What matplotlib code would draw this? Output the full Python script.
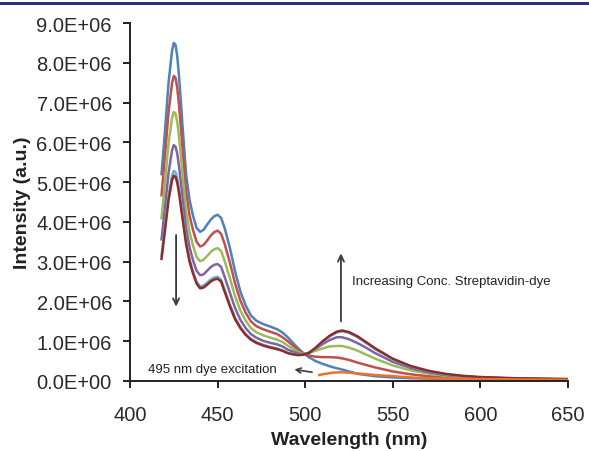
import numpy as np
import matplotlib.pyplot as plt
import matplotlib.patches as patches
from matplotlib.ticker import FuncFormatter, MultipleLocator

plt.rcParams['font.family'] = ['Liberation Sans', 'DejaVu Sans']

# wavelength grid (nm) shared by the six titration spectra
wavelength = [418, 420, 422, 424, 425, 426, 427, 428, 429, 430, 432, 434, 436, 438,
              440, 442, 444, 446, 448, 450, 452, 454, 457, 460, 463, 466, 469, 472,
              476, 480, 484, 487, 490, 493, 496, 499, 502, 506, 510, 514, 518, 521,
              525, 530, 535, 540, 550, 560, 570, 580, 590, 600, 620, 650]

# intensities in units of 1E+06
blue = [5.2, 6.3, 7.5, 8.3, 8.5, 8.45, 8.15, 7.65, 7.05, 6.4, 5.2, 4.55, 4.15, 3.85,
        3.75, 3.8, 3.93, 4.05, 4.14, 4.18, 4.1, 3.85, 3.35, 2.75, 2.25, 1.9, 1.65, 1.52,
        1.43, 1.37, 1.3, 1.22, 1.1, 0.96, 0.82, 0.7, 0.6, 0.5, 0.43, 0.37, 0.32, 0.29,
        0.24, 0.18, 0.15, 0.12, 0.09, 0.07, 0.06, 0.05, 0.05, 0.04, 0.04, 0.03]
red = [4.67, 5.68, 6.76, 7.49, 7.67, 7.62, 7.36, 6.92, 6.39, 5.82, 4.76, 4.16, 3.79, 3.5,
       3.38, 3.42, 3.53, 3.65, 3.74, 3.78, 3.7, 3.45, 2.98, 2.45, 2.02, 1.72, 1.5, 1.38,
       1.3, 1.24, 1.18, 1.1, 1.0, 0.89, 0.78, 0.69, 0.64, 0.61, 0.6, 0.6, 0.59, 0.57,
       0.53, 0.46, 0.4, 0.34, 0.24, 0.17, 0.12, 0.09, 0.07, 0.06, 0.05, 0.04]
green = [4.09, 5.0, 5.97, 6.61, 6.76, 6.72, 6.5, 6.13, 5.67, 5.19, 4.29, 3.74, 3.4, 3.12,
         3.01, 3.05, 3.14, 3.24, 3.31, 3.34, 3.27, 3.02, 2.59, 2.13, 1.77, 1.52, 1.33, 1.23,
         1.15, 1.09, 1.04, 0.98, 0.89, 0.81, 0.73, 0.68, 0.7, 0.76, 0.82, 0.87, 0.88, 0.88,
         0.84, 0.76, 0.66, 0.56, 0.39, 0.27, 0.19, 0.13, 0.1, 0.08, 0.06, 0.04]
purple = [3.56, 4.38, 5.23, 5.8, 5.93, 5.89, 5.71, 5.39, 5.01, 4.61, 3.85, 3.36, 3.03, 2.77,
          2.66, 2.68, 2.77, 2.86, 2.92, 2.94, 2.87, 2.62, 2.22, 1.83, 1.54, 1.33, 1.18, 1.09,
          1.01, 0.96, 0.92, 0.87, 0.79, 0.74, 0.69, 0.67, 0.71, 0.81, 0.93, 1.03, 1.1, 1.1,
          1.05, 0.95, 0.83, 0.7, 0.48, 0.33, 0.22, 0.15, 0.11, 0.09, 0.06, 0.04]
teal = [3.15, 3.9, 4.66, 5.17, 5.28, 5.25, 5.1, 4.83, 4.5, 4.17, 3.52, 3.06, 2.75, 2.5,
        2.38, 2.4, 2.47, 2.55, 2.6, 2.62, 2.55, 2.3, 1.93, 1.59, 1.36, 1.18, 1.06, 0.98,
        0.91, 0.86, 0.82, 0.77, 0.71, 0.68, 0.66, 0.66, 0.7, 0.83, 0.99, 1.12, 1.22, 1.25,
        1.21, 1.1, 0.95, 0.8, 0.55, 0.37, 0.25, 0.17, 0.12, 0.09, 0.06, 0.04]
maroon = [3.07, 3.8, 4.55, 5.05, 5.16, 5.13, 4.98, 4.72, 4.4, 4.08, 3.45, 3.0, 2.7, 2.45,
          2.33, 2.35, 2.42, 2.5, 2.55, 2.57, 2.5, 2.25, 1.88, 1.55, 1.33, 1.16, 1.04, 0.96,
          0.89, 0.84, 0.8, 0.76, 0.7, 0.67, 0.65, 0.66, 0.7, 0.84, 1.0, 1.14, 1.24, 1.27,
          1.23, 1.12, 0.97, 0.82, 0.56, 0.38, 0.26, 0.18, 0.13, 0.1, 0.07, 0.05]

# dye only, excited at 495 nm
dye_wavelength = [508, 510, 513, 516, 520, 525, 530, 535, 540, 550, 560, 570, 580, 590, 600, 620, 650]
dye = [0.15, 0.17, 0.19, 0.21, 0.22, 0.21, 0.19, 0.17, 0.15, 0.12, 0.09, 0.07, 0.06, 0.05, 0.05, 0.04, 0.03]

series = [(blue, '#4F81BD'), (red, '#C0504D'), (green, '#9BBB59'),
          (purple, '#8064A2'), (teal, '#6FAFC8'), (maroon, '#8B2D2B')]

fig = plt.figure(figsize=(5.89, 4.52), dpi=100)
ax = fig.add_axes([130 / 589, 1 - 382 / 452, 438 / 589, 358 / 452])

# title rule of the journal page
fig.patches.append(patches.Rectangle((0, 1 - 5.5 / 452), 1, 2.5 / 452, transform=fig.transFigure,
                                     facecolor='#27337C', edgecolor='none'))

for vals, col in series:
    ax.plot(wavelength, np.array(vals) * 1e6, color=col, lw=1.8)
ax.plot(dye_wavelength, np.array(dye) * 1e6, color='#E8732C', lw=1.8)

# annotations
arrow = dict(arrowstyle='->,head_length=0.45,head_width=0.22', color='#3A3A3A', lw=1.3)
ax.annotate('', xy=(426.3, 1.80e6), xytext=(426.3, 3.74e6), arrowprops=arrow)
ax.annotate('', xy=(520.4, 3.28e6), xytext=(520.4, 1.43e6), arrowprops=arrow)
ax.annotate('', xy=(492.3, 0.30e6), xytext=(505.5, 0.21e6),
            arrowprops=dict(arrowstyle='->,head_length=0.35,head_width=0.18', color='#3A3A3A', lw=1.2))
ax.text(526.5, 2.51e6, 'Increasing Conc. Streptavidin-dye', fontsize=9.5, color='#222222', va='center')
ax.text(410.4, 0.29e6, '495 nm dye excitation', fontsize=9.5, color='#222222', va='center')

ax.set_xlim(400, 650)
ax.set_ylim(0, 9e6)
ax.xaxis.set_major_locator(MultipleLocator(50))
ax.yaxis.set_major_locator(MultipleLocator(1e6))
ax.yaxis.set_major_formatter(FuncFormatter(lambda v, p: f"{v:.1E}"))

for side in ['top', 'right']:
    ax.spines[side].set_visible(False)
for side in ['left', 'bottom']:
    ax.spines[side].set_linewidth(1.4)
    ax.spines[side].set_color('#222222')
ax.tick_params(direction='out', length=5, width=1.4, color='#222222',
               labelsize=14.5, labelcolor='#2A2A2A')
ax.tick_params(axis='y', pad=8)
ax.tick_params(axis='x', pad=12)

ax.set_xlabel('Wavelength (nm)', fontsize=14, fontweight='bold', color='#222222')
ax.set_ylabel('Intensity (a.u.)', fontsize=14, fontweight='bold', color='#222222')
ax.xaxis.set_label_coords(0.5, -0.14)
ax.yaxis.set_label_coords(-0.225, 0.5)

fig.savefig('out.png', dpi=100, facecolor='white')
